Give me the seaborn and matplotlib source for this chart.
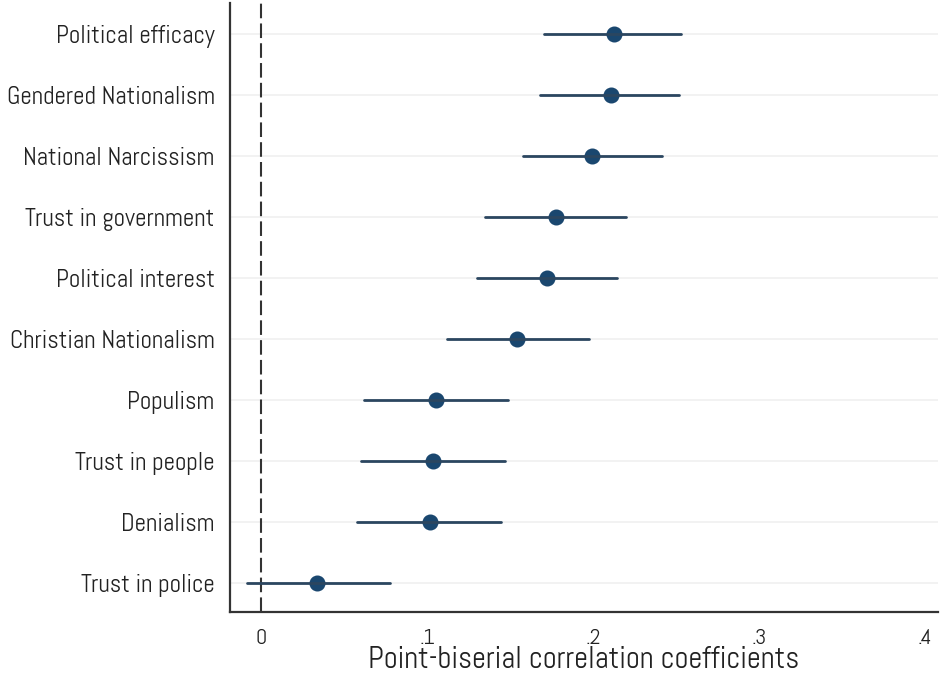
import matplotlib
matplotlib.use("Agg")
import matplotlib.pyplot as plt
import seaborn as sns
import pandas as pd
from matplotlib import font_manager

categories = ["Political efficacy", "Gendered Nationalism", "National Narcissism",
              "Trust in government", "Political interest", "Christian Nationalism",
              "Populism", "Trust in people", "Denialism", "Trust in police"]
estimate = [0.2127, 0.2110, 0.1994, 0.1777, 0.1723, 0.1540, 0.1054, 0.1036, 0.1018, 0.0337]
ci_low = [0.1705, 0.1680, 0.1580, 0.1350, 0.1300, 0.1120, 0.0620, 0.0600, 0.0580, -0.0084]
ci_high = [0.2530, 0.2520, 0.2416, 0.2200, 0.2145, 0.1976, 0.1488, 0.1470, 0.1446, 0.0777]
xticks = [0, 0.1, 0.2, 0.3, 0.4]
xticklabels = ["0", ".1", ".2", ".3", ".4"]

rows = []
for c, e, lo, hi in zip(categories, estimate, ci_low, ci_high):
    for v in (lo, e, hi):
        rows.append({"var": c, "r": v})
df = pd.DataFrame(rows)

sns.set_style("white")
names = {f.name for f in font_manager.fontManager.ttflist}
fam = "Abel" if "Abel" in names else "DejaVu Sans"
plt.rcParams["font.family"] = [fam, "DejaVu Sans"]

fig = plt.figure(figsize=(9.47, 6.75), dpi=100)
ax = fig.add_axes([0.2429, 0.0933, 0.7476, 0.9023])

ax.axvline(0, color="#333333", lw=1.5, ls=(0, (7, 2.5)), zorder=1)

sns.pointplot(data=df, x="r", y="var", order=categories, orient="h",
              estimator="median", errorbar=("pi", 100),
              color="#1a476f", linestyle="none", markersize=9.5,
              err_kws={"color": "#2b4660", "linewidth": 2.0},
              capsize=0, ax=ax, zorder=3)

ax.set_xlim(-0.0187, 0.408)
ax.set_ylim(len(categories) - 0.525, -0.51)
ax.set_xticks(xticks)
ax.set_xticklabels(xticklabels)
ax.grid(axis="y", color="#efefef", lw=1.1, zorder=0)
ax.grid(axis="x", visible=False)
ax.set_axisbelow(True)

for s in ["top", "right"]:
    ax.spines[s].set_visible(False)
for s in ["left", "bottom"]:
    ax.spines[s].set_color("#333333")
    ax.spines[s].set_linewidth(1.6)

ax.tick_params(axis="y", length=7, width=1.4, color="#333333", labelsize=18, pad=4, labelcolor="#222222")
ax.tick_params(axis="x", length=7, width=1.4, color="#333333", labelsize=16, pad=5, labelcolor="#222222")
ax.set_ylabel("")
ax.set_xlabel("Point-biserial correlation coefficients", fontsize=22, color="#222222", labelpad=-1)

fig.savefig("out.png", dpi=100, facecolor="white")
